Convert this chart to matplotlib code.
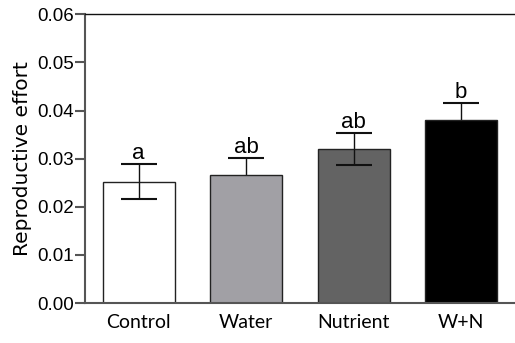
import matplotlib
matplotlib.use("Agg")
import matplotlib.pyplot as plt

# data
groups = ["Control", "Water", "Nutrient", "W+N"]
effort = [0.0252, 0.0267, 0.0320, 0.0380]
se = [0.0036, 0.0035, 0.0034, 0.0036]
letters = ["a", "ab", "ab", "b"]
colours = ["#ffffff", "#a1a0a5", "#636363", "#000000"]
# lower whiskers show through only on the Control and Nutrient bars
low_shown = [True, False, True, False]

fig = plt.figure(figsize=(5.15, 3.43), dpi=100)
ax = fig.add_axes([0.165, 0.1166, 0.835, 0.8416])

x = list(range(len(groups)))
ax.bar(x, effort, width=0.667, color=colours, edgecolor="#222222", linewidth=1.0, zorder=2)
# full error bars behind the bars
ax.errorbar(x, effort, yerr=se, fmt="none", ecolor="#111111", elinewidth=1.0,
            capsize=13, capthick=1.5, zorder=1)
# lower halves redrawn on top where they are visible
xs = [i for i, s in zip(x, low_shown) if s]
ys = [v for v, s in zip(effort, low_shown) if s]
es = [e for e, s in zip(se, low_shown) if s]
_, caps, _ = ax.errorbar(xs, ys, yerr=[es, [0] * len(es)], fmt="none", ecolor="#111111",
                         elinewidth=1.0, capsize=13, capthick=1.5, zorder=3)
caps[1].set_visible(False)  # no cap on the zero-length upper side

for i, (v, e, t) in enumerate(zip(effort, se, letters)):
    ax.text(i, v + e, t, ha="center", va="bottom", fontsize=16,
            family="Liberation Sans")

ax.set_xlim(-0.5, 3.5)
ax.set_ylim(0, 0.06)
ax.set_yticks([0, 0.01, 0.02, 0.03, 0.04, 0.05, 0.06])
ax.set_yticklabels(["0.00", "0.01", "0.02", "0.03", "0.04", "0.05", "0.06"],
                   family="Liberation Sans", fontsize=13.5)
ax.set_xticks(x)
ax.set_xticklabels(groups, family="Lato", fontsize=14)
ax.tick_params(axis="x", length=0, pad=8)
ax.tick_params(axis="y", length=7, width=1.5, color="#555555", pad=1)
ax.set_ylabel("Reproductive effort", family="DejaVu Sans", fontsize=14.5, labelpad=4)

ax.spines["right"].set_visible(False)
ax.spines["left"].set_color("#555555")
ax.spines["left"].set_linewidth(1.5)
ax.spines["bottom"].set_color("#555555")
ax.spines["bottom"].set_linewidth(1.5)
ax.spines["top"].set_color("#111111")
ax.spines["top"].set_linewidth(1.0)

fig.savefig("out.png", dpi=100)
